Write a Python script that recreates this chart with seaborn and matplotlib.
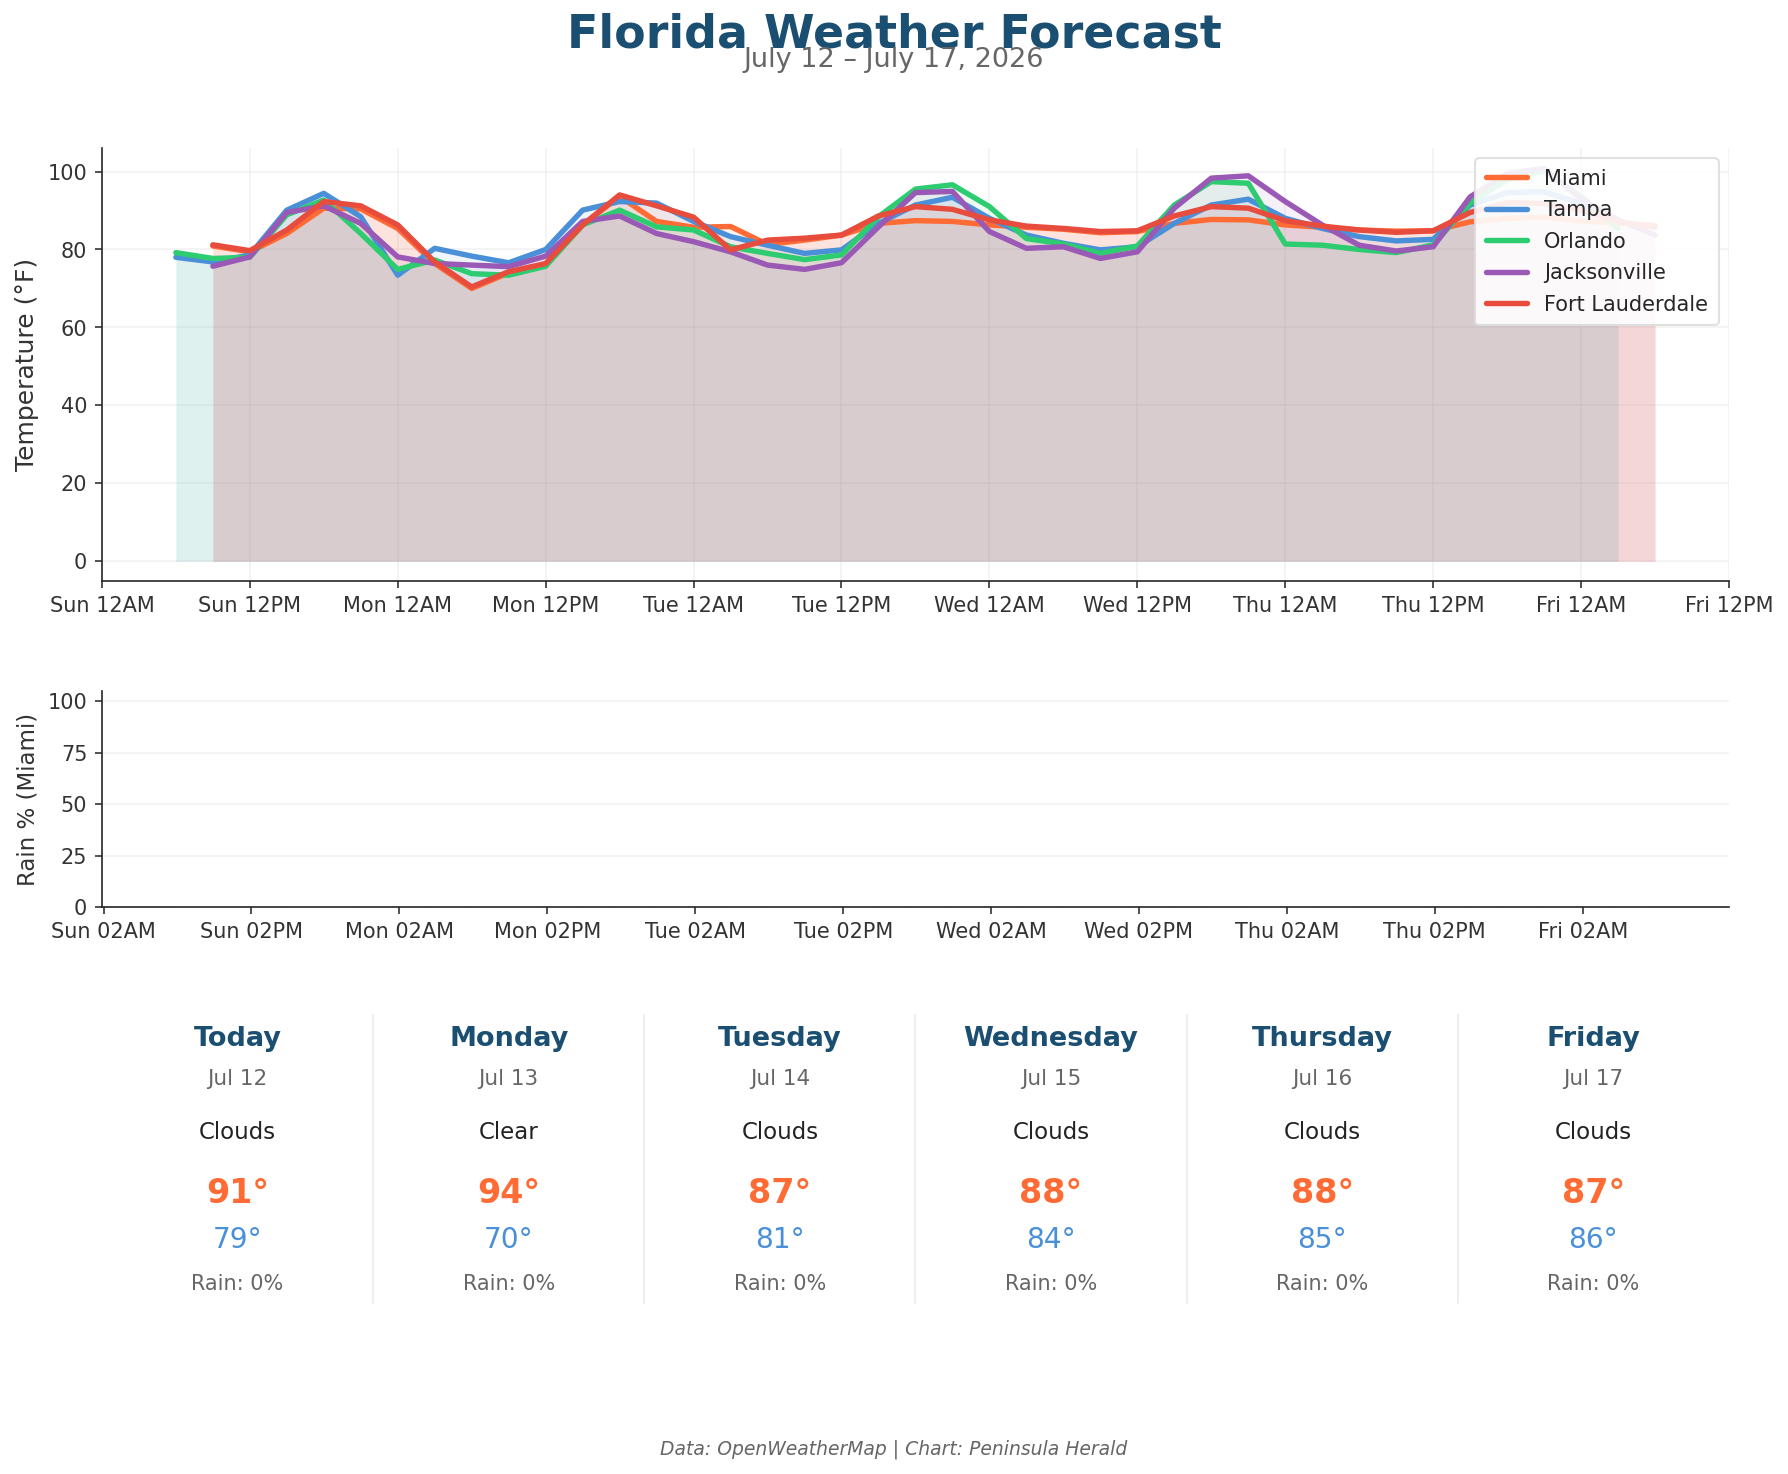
import numpy as np
import pandas as pd
import matplotlib
matplotlib.use("Agg")
import matplotlib.pyplot as plt
import matplotlib.dates as mdates
from matplotlib.lines import Line2D
import seaborn as sns

# 3-hourly forecast, deg F (Tampa / Orlando start Sun 6AM, others Sun 9AM)
miami = [80.9, 79.4, 84.1, 90.6, 90.4,
         85.4, 76.4, 70.0, 74.0, 76.0, 86.3, 93.6, 87.2,
         85.7, 85.9, 81.3, 82.4, 83.7, 86.7, 87.4, 87.2,
         86.3, 85.7, 85.2, 84.3, 84.6, 86.7, 87.7, 87.6,
         86.3, 85.7, 85.0, 84.7, 84.8, 87.1, 88.0, 88.3,
         87.3, 86.8, 86.2]
tampa = [78.0, 76.8, 78.6, 90.1, 94.4, 88.4,
         73.4, 80.3, 78.3, 76.6, 80.0, 90.1, 92.3, 91.9,
         87.2, 83.3, 81.1, 79.0, 79.9, 86.7, 91.4, 93.4,
         88.0, 83.7, 81.6, 79.9, 80.7, 86.7, 91.4, 92.9,
         88.0, 85.4, 83.3, 82.2, 82.6, 91.4, 94.6, 94.8,
         91.8, 87.1]
orlando = [79.2, 77.7, 78.0, 88.9, 92.7, 84.1,
           74.9, 77.3, 73.8, 73.4, 75.7, 86.3, 90.1, 85.8,
           85.0, 80.7, 79.0, 77.4, 78.6, 88.4, 95.5, 96.6,
           91.0, 82.8, 81.4, 79.0, 80.9, 91.4, 97.4, 97.0,
           81.4, 81.1, 80.0, 79.2, 81.2, 91.9, 98.0, 100.2,
           93.6, 85.4]
jacksonville = [75.7, 78.1, 89.5, 91.2, 86.7,
                78.1, 76.4, 76.0, 75.6, 78.3, 87.2, 88.6, 84.1,
                82.0, 79.4, 76.0, 74.9, 76.6, 85.8, 94.6, 94.9,
                84.6, 80.3, 80.7, 77.7, 79.4, 90.6, 98.3, 98.9,
                92.3, 86.3, 81.1, 79.6, 80.7, 93.5, 99.5, 100.8,
                93.0, 87.6, 83.7]
fort_lauderdale = [81.2, 79.7, 85.0, 92.3, 91.2,
                   86.3, 76.8, 70.4, 74.3, 76.4, 86.3, 94.0, 91.2,
                   88.3, 79.9, 82.4, 82.9, 83.7, 88.6, 91.0, 90.3,
                   87.6, 86.0, 85.4, 84.6, 84.8, 88.6, 91.0, 90.6,
                   87.4, 86.0, 85.0, 84.4, 84.8, 89.5, 92.0, 91.8,
                   90.1, 87.1, 85.8]
miami_rain = [0, 0, 0, 0, 0, 0, 0, 0, 0, 0, 0, 0, 0, 0, 0, 0, 0, 0, 0, 0,
              0, 0, 0, 0, 0, 0, 0, 0, 0, 0, 0, 0, 0, 0, 0, 0, 0, 0, 0, 0]

cities = ["Miami", "Tampa", "Orlando", "Jacksonville", "Fort Lauderdale"]
colors = ["#FF6B35", "#4A90D9", "#2ECC71", "#9B59B6", "#E74C3C"]
starts = ["2026-07-12 09:00", "2026-07-12 06:00", "2026-07-12 06:00",
          "2026-07-12 09:00", "2026-07-12 09:00"]
series = [miami, tampa, orlando, jacksonville, fort_lauderdale]

day_names = ["Today", "Monday", "Tuesday", "Wednesday", "Thursday", "Friday"]
day_dates = ["Jul 12", "Jul 13", "Jul 14", "Jul 15", "Jul 16", "Jul 17"]
conditions = ["Clouds", "Clear", "Clouds", "Clouds", "Clouds", "Clouds"]
highs = [91, 94, 87, 88, 88, 87]
lows = [79, 70, 81, 84, 85, 86]
rain_pct = [0, 0, 0, 0, 0, 0]

NAVY = "#1B4F72"

sns.set_style("ticks")
plt.rcParams["font.family"] = ["DejaVu Sans"]

fig = plt.figure(figsize=(11.92, 9.827), dpi=150)

# ---- temperature panel
ax1 = fig.add_axes([0.057, 0.6058, 0.91, 0.2938])
for city, col, st, vals in zip(cities, colors, starts, series):
    t = pd.date_range(st, periods=len(vals), freq="3h")
    sns.lineplot(x=t, y=vals, color=col, lw=2.6, label=city, ax=ax1)
    ax1.fill_between(t, vals, 0, color=col, alpha=0.085, lw=0)

ax1.set_xlim(pd.Timestamp("2026-07-12 00:00"), pd.Timestamp("2026-07-17 12:00"))
ax1.set_ylim(-5.05, 106.05)
ax1.set_yticks([0, 20, 40, 60, 80, 100])
ax1.xaxis.set_major_locator(mdates.HourLocator(byhour=[0, 12]))
ax1.xaxis.set_major_formatter(mdates.DateFormatter("%a %I%p"))
ax1.set_ylabel("Temperature (°F)", fontsize=12, color="#333333")
ax1.set_xlabel("")
ax1.grid(True, color="#e6e6e6", alpha=0.5, lw=0.8)
ax1.tick_params(labelsize=10, colors="#333333")
ax1.legend(loc="upper right", fontsize=10, frameon=True, framealpha=0.9,
           edgecolor="#dddddd", handlelength=2.0, borderpad=0.5, labelspacing=0.55)
sns.despine(ax=ax1)

# ---- rain panel
ax2 = fig.add_axes([0.057, 0.3847, 0.91, 0.1465])
t_rain = pd.date_range(starts[0], periods=len(miami_rain), freq="3h")
ax2.bar(t_rain, miami_rain, width=0.1, color="#4A90D9", alpha=0.6)
ax2.set_xlim(pd.Timestamp("2026-07-12 01:52"), pd.Timestamp("2026-07-17 13:52"))
ax2.set_ylim(0, 105)
ax2.set_yticks([0, 25, 50, 75, 100])
ax2.xaxis.set_major_locator(mdates.HourLocator(byhour=[2, 14]))
ax2.xaxis.set_major_formatter(mdates.DateFormatter("%a %I%p"))
ax2.set_ylabel("Rain % (Miami)", fontsize=11, color="#333333")
ax2.grid(True, axis="y", color="#e6e6e6", alpha=0.5, lw=0.8)
ax2.tick_params(labelsize=10, colors="#333333")
sns.despine(ax=ax2)

# ---- daily cards
x0, span = 0.057, 0.91
w = span / len(day_names)
for i in range(len(day_names)):
    cx = x0 + (i + 0.5) * w
    fig.text(cx, 0.2951, day_names[i], ha="center", va="center",
             fontsize=13, fontweight="bold", color=NAVY)
    fig.text(cx, 0.2680, day_dates[i], ha="center", va="center",
             fontsize=10.3, color="#666666")
    fig.text(cx, 0.2320, conditions[i], ha="center", va="center",
             fontsize=11, color="#222222")
    fig.text(cx, 0.1900, f"{highs[i]}°", ha="center", va="center",
             fontsize=16, fontweight="bold", color="#FF6B35")
    fig.text(cx, 0.1588, f"{lows[i]}°", ha="center", va="center",
             fontsize=13.5, color="#4A90D9")
    fig.text(cx, 0.1289, f"Rain: {rain_pct[i]}%", ha="center", va="center",
             fontsize=10, color="#666666")
    if i < len(day_names) - 1:
        fig.add_artist(Line2D([x0 + (i + 1) * w] * 2, [0.116, 0.3114],
                              transform=fig.transFigure, color="#eeeeee", lw=1))

fig.text(0.5, 0.976, "Florida Weather Forecast", ha="center", va="center",
         fontsize=22, fontweight="bold", color=NAVY)
fig.text(0.5, 0.959, "July 12 – July 17, 2026", ha="center", va="center",
         fontsize=13, color="#666666")
fig.text(0.5, 0.017, "Data: OpenWeatherMap | Chart: Peninsula Herald",
         ha="center", va="center", fontsize=9, style="italic", color="#666666")

fig.savefig("out.png", dpi=150)
